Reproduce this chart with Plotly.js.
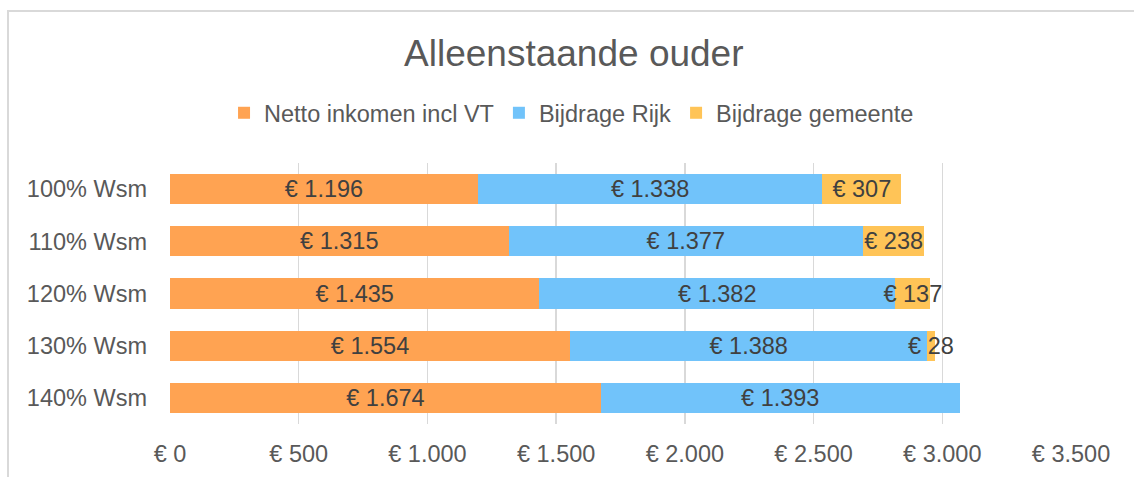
<!DOCTYPE html>
<html>
<head>
<meta charset="utf-8">
<script src="https://cdn.plot.ly/plotly-3.0.1.min.js"></script>
<style>
  html, body { margin: 0; padding: 0; background: #fff; }
  #wrap { position: relative; width: 1134px; height: 477px; overflow: hidden; }
  #chart { position: absolute; left: 0; top: 0; width: 1134px; height: 477px; }
  #frame { position: absolute; left: 7px; top: 10px; width: 1200px; height: 600px;
           border-left: 2px solid #d9d9d9; border-top: 2px solid #d9d9d9; pointer-events: none; }
</style>
</head>
<body>
<div id="wrap">
  <div id="chart"></div>
  <div id="frame"></div>
</div>
<script>
const categories = ["100% Wsm", "110% Wsm", "120% Wsm", "130% Wsm", "140% Wsm"];
const nettoInkomen = [1196, 1315, 1435, 1554, 1674];
const bijdrageRijk = [1338, 1377, 1382, 1388, 1393];
const bijdrageGemeente = [307, 238, 137, 28, 0];
const seriesNames = ["Netto inkomen incl VT", "Bijdrage Rijk", "Bijdrage gemeente"];
const xTickValues = [0, 500, 1000, 1500, 2000, 2500, 3000, 3500];

function euro(v) {
  const s = String(Math.round(v)).replace(/\B(?=(\d{3})+(?!\d))/g, ".");
  return "€ " + s;
}
function labels(arr) { return arr.map(v => v > 0 ? euro(v) : ""); }

const colors = ["#FFA352", "#71C3FA", "#FFC457"];
const series = [nettoInkomen, bijdrageRijk, bijdrageGemeente];
const FONT = "Liberation Sans, Arial, sans-serif";

const traces = series.map((vals, i) => ({
  type: "bar",
  orientation: "h",
  name: seriesNames[i],
  y: categories,
  x: vals,
  text: labels(vals),
  textposition: "inside",
  insidetextanchor: "middle",
  constraintext: "none",
  textangle: 0,
  cliponaxis: false,
  textfont: { family: FONT, size: 23.5, color: "#404040" },
  marker: { color: colors[i], line: { width: 0 } },
  hoverinfo: "skip"
}));

const layout = {
  width: 1134,
  height: 477,
  margin: { l: 170, r: 63, t: 163, b: 53 },
  paper_bgcolor: "rgba(0,0,0,0)",
  plot_bgcolor: "rgba(0,0,0,0)",
  barmode: "stack",
  bargap: 0.42,
  font: { family: FONT, size: 23.5, color: "#595959" },
  title: {
    text: "Alleenstaande ouder",
    font: { family: FONT, size: 37, color: "#595959" },
    xref: "container", x: 0.506, xanchor: "center",
    yref: "container", y: 1 - 53 / 477, yanchor: "middle"
  },
  showlegend: true,
  legend: {
    orientation: "h",
    xref: "container", x: 0.504, xanchor: "center",
    yref: "container", y: 1 - 113 / 477, yanchor: "middle",
    font: { family: FONT, size: 23.5, color: "#595959" },
    traceorder: "normal",
    itemclick: false
  },
  xaxis: {
    range: [0, 3500],
    tickvals: xTickValues,
    ticktext: xTickValues.map(euro),
    showgrid: true,
    gridcolor: "#d9d9d9",
    gridwidth: 1.5,
    zeroline: false,
    showline: false,
    ticks: "",
    ticklabelstandoff: 13,
    tickfont: { family: FONT, size: 23.5, color: "#595959" },
    fixedrange: true
  },
  yaxis: {
    type: "category",
    categoryorder: "array",
    categoryarray: categories,
    autorange: "reversed",
    showgrid: false,
    zeroline: false,
    showline: false,
    ticks: "",
    ticklabelstandoff: 22,
    tickfont: { family: FONT, size: 23.5, color: "#595959" },
    fixedrange: true
  }
};

Plotly.newPlot("chart", traces, layout, { displayModeBar: false, staticPlot: true });
</script>
</body>
</html>
